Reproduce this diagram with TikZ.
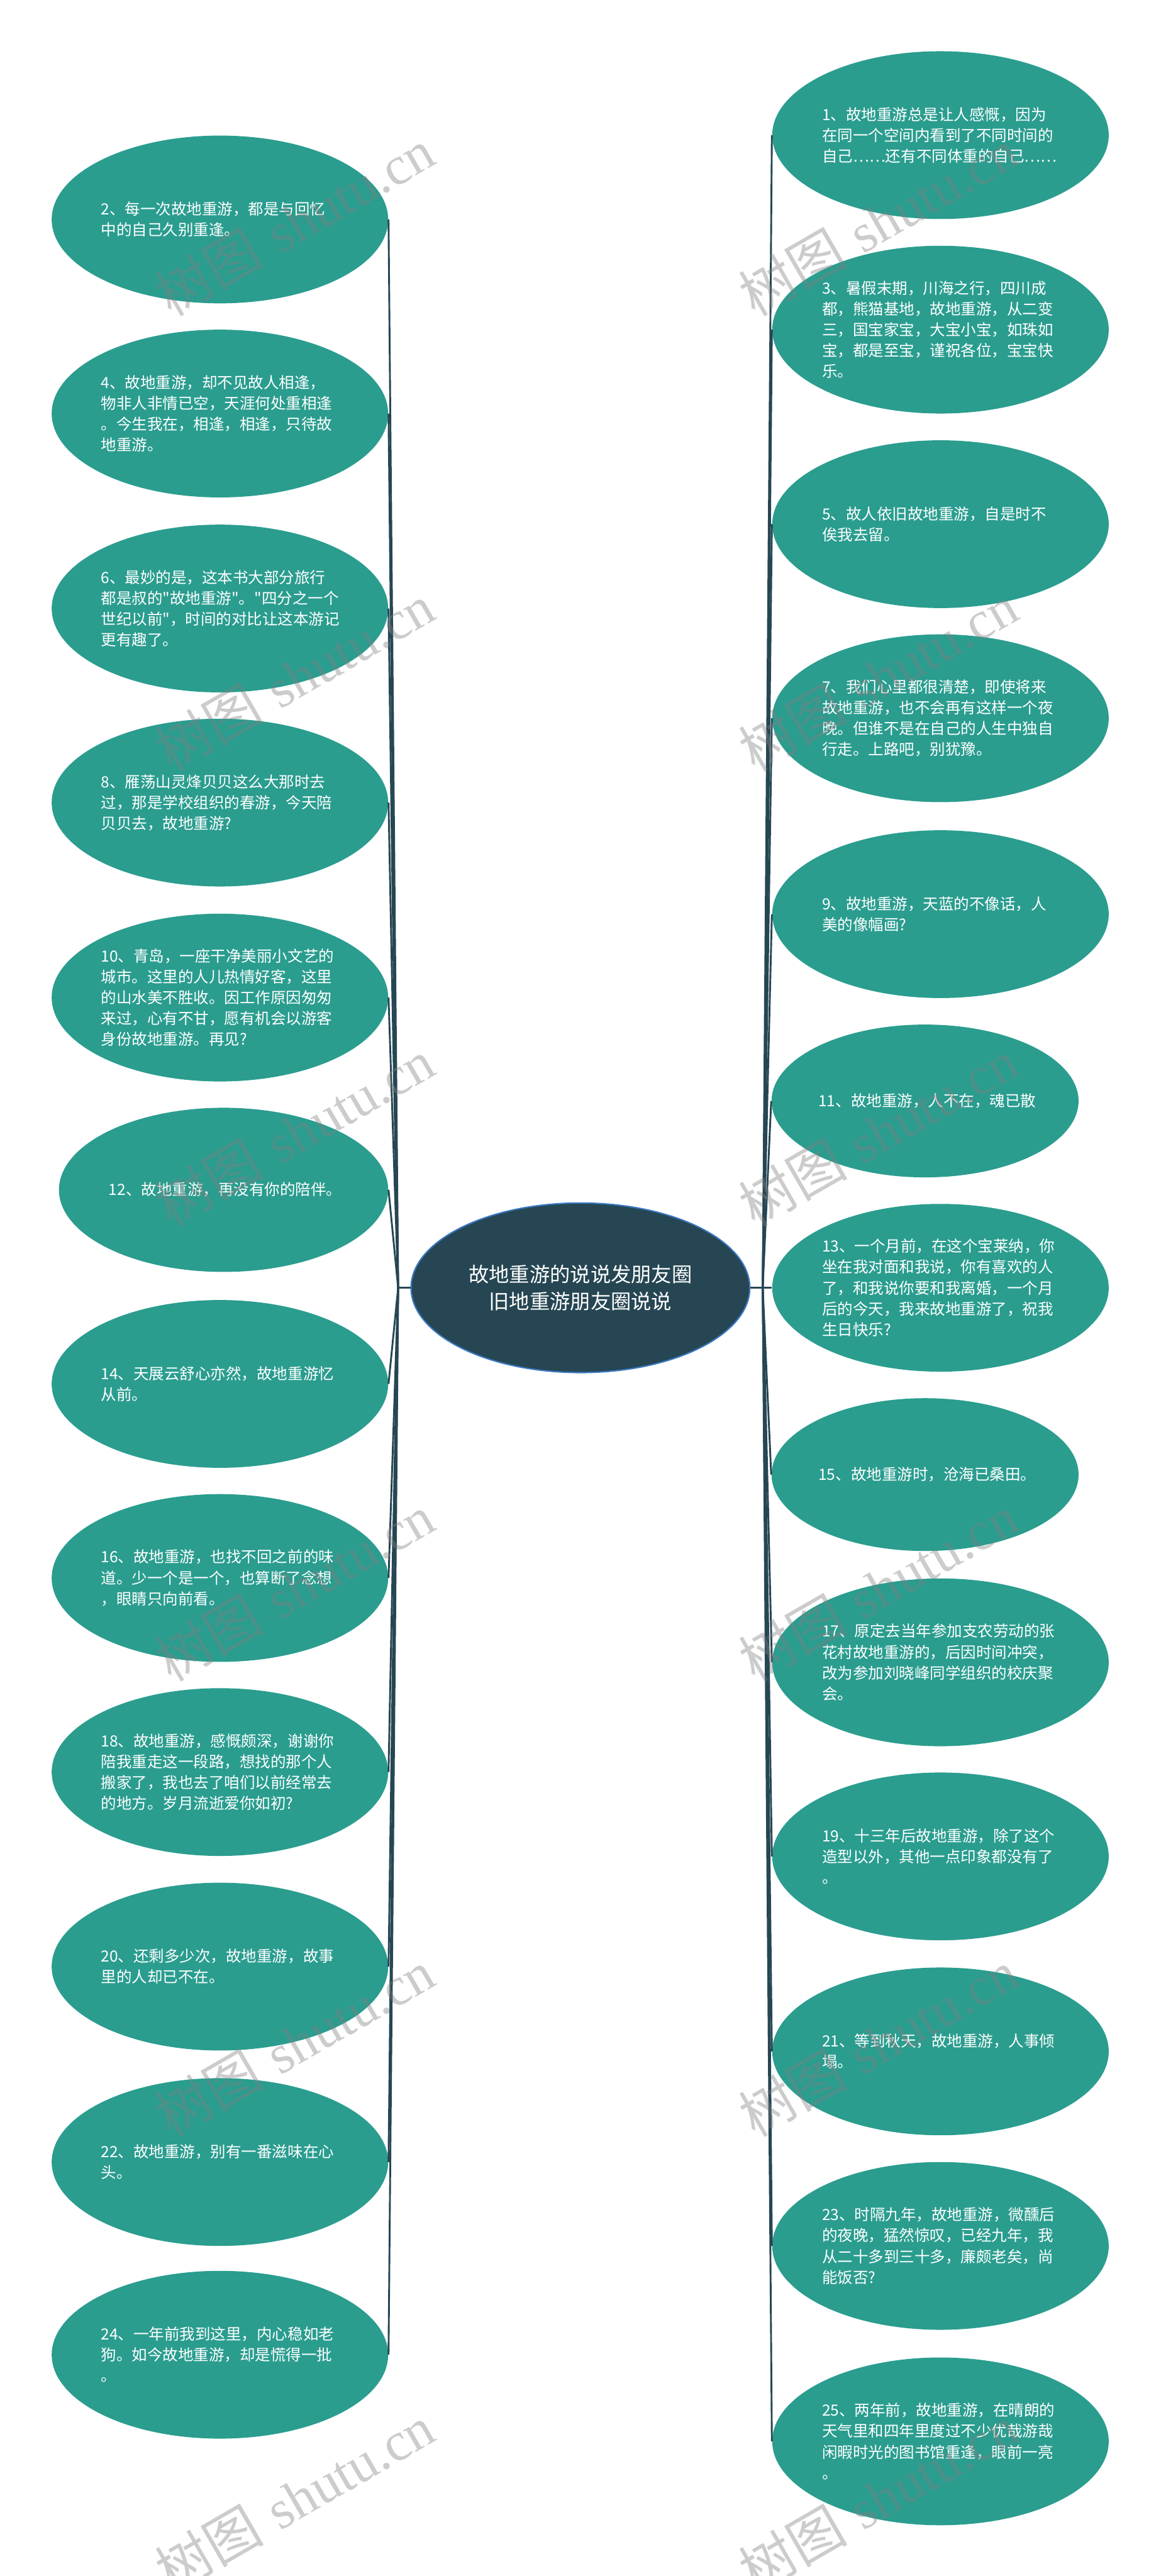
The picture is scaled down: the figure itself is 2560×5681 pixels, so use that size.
\documentclass[tikz,border=0pt]{standalone}
\usepackage{fontspec}
\newfontfamily\cjk{Noto Sans CJK SC}
\newfontfamily\wmserif{Liberation Serif}
\usetikzlibrary{shapes.geometric}
\definecolor{leafc}{HTML}{2A9D8F}
\definecolor{rootc}{HTML}{264653}
\definecolor{rootborder}{HTML}{3A78C0}
\begin{document}
\begin{tikzpicture}[x=0.25pt,y=-0.25pt,
  leaf/.style={ellipse, fill=leafc, draw=none, minimum width=185.5pt, minimum height=92.5pt, inner sep=0pt},
  lt/.style={anchor=west, align=left, text=white, inner sep=0pt, font=\cjk\fontsize{8.5pt}{11.5pt}\selectfont},
  root/.style={ellipse, fill=rootc, draw=rootborder, line width=0.75pt, minimum width=186.75pt, minimum height=93.5pt, inner sep=0pt, text=white, align=center, font=\cjk\fontsize{11.2pt}{15pt}\selectfont},
  conn/.style={draw=rootc, line width=1pt},
  wm/.style={rotate=30, text=gray, text opacity=0.4, inner sep=0pt, font=\fontsize{30pt}{34pt}\selectfont}
]
\useasboundingbox (0,0) rectangle (2560,5681);
\fill[white] (0,0) rectangle (2560,5681);

% root
\node[root] (root) at (1280,2840) {故地重游的说说发朋友圈\\旧地重游朋友圈说说};
\coordinate (JL) at (878,2840);
\coordinate (JR) at (1682,2840);

% left leaves
\node[leaf] (L2) at (485,484) {};
\node[leaf] (L4) at (485,912) {};
\node[leaf] (L6) at (485,1342) {};
\node[leaf] (L8) at (485,1770) {};
\node[leaf] (L10) at (485,2200) {};
\node[leaf, minimum width=181.5pt, minimum height=90.5pt] (L12) at (493,2624) {};
\node[leaf] (L14) at (485,3052) {};
\node[leaf] (L16) at (485,3480) {};
\node[leaf] (L18) at (485,3908) {};
\node[leaf] (L20) at (485,4337) {};
\node[leaf] (L22) at (485,4768) {};
\node[leaf] (L24) at (485,5193) {};

% right leaves
\node[leaf] (R1) at (2074,298) {};
\node[leaf] (R3) at (2074,727) {};
\node[leaf] (R5) at (2074,1156) {};
\node[leaf] (R7) at (2074,1584) {};
\node[leaf] (R9) at (2074,2016) {};
\node[leaf, minimum width=169.25pt, minimum height=84.25pt] (R11) at (2040,2428) {};
\node[leaf] (R13) at (2074,2840) {};
\node[leaf, minimum width=169.25pt, minimum height=84.25pt] (R15) at (2040,3252) {};
\node[leaf] (R17) at (2074,3666) {};
\node[leaf] (R19) at (2074,4094) {};
\node[leaf] (R21) at (2074,4524) {};
\node[leaf] (R23) at (2074,4953) {};
\node[leaf] (R25) at (2074,5384) {};

% connectors
\draw[conn] (root.west) -- (JL);
\draw[conn] (root.east) -- (JR);
\foreach \n in {L2,L4,L6,L8,L10,L12,L14,L16,L18,L20,L22,L24}{\draw[conn] (JL) -- (\n.east);}
\foreach \n in {R1,R3,R5,R7,R9,R11,R15,R17,R19,R21,R23,R25}{\draw[conn] (JR) -- (\n.west);}
\draw[conn] (JR) -- (R13.west);

% left texts
\node[lt] (T2) at (222,484) {2、每一次故地重游，都是与回忆\\中的自己久别重逢。};
\node[lt] (T4) at (222,912) {4、故地重游，却不见故人相逢，\\物非人非情已空，天涯何处重相逢\\。今生我在，相逢，相逢，只待故\\地重游。};
\node[lt] (T6) at (222,1342) {6、最妙的是，这本书大部分旅行\\都是叔的"故地重游"。"四分之一个\\世纪以前"，时间的对比让这本游记\\更有趣了。};
\node[lt] (T8) at (222,1770) {8、雁荡山灵烽贝贝这么大那时去\\过，那是学校组织的春游，今天陪\\贝贝去，故地重游?};
\node[lt] (T10) at (222,2200) {10、青岛，一座干净美丽小文艺的\\城市。这里的人儿热情好客，这里\\的山水美不胜收。因工作原因匆匆\\来过，心有不甘，愿有机会以游客\\身份故地重游。再见?};
\node[lt] (T12) at (239,2624) {12、故地重游，再没有你的陪伴。};
\node[lt] (T14) at (222,3052) {14、天展云舒心亦然，故地重游忆\\从前。};
\node[lt] (T16) at (222,3480) {16、故地重游，也找不回之前的味\\道。少一个是一个，也算断了念想\\，眼睛只向前看。};
\node[lt] (T18) at (222,3908) {18、故地重游，感慨颇深，谢谢你\\陪我重走这一段路，想找的那个人\\搬家了，我也去了咱们以前经常去\\的地方。岁月流逝爱你如初?};
\node[lt] (T20) at (222,4337) {20、还剩多少次，故地重游，故事\\里的人却已不在。};
\node[lt] (T22) at (222,4768) {22、故地重游，别有一番滋味在心\\头。};
\node[lt] (T24) at (222,5193) {24、一年前我到这里，内心稳如老\\狗。如今故地重游，却是慌得一批\\。};

% right texts
\node[lt] (T1) at (1812,298) {1、故地重游总是让人感慨，因为\\在同一个空间内看到了不同时间的\\自己……还有不同体重的自己……};
\node[lt] (T3) at (1812,727) {3、暑假末期，川海之行，四川成\\都，熊猫基地，故地重游，从二变\\三，国宝家宝，大宝小宝，如珠如\\宝，都是至宝，谨祝各位，宝宝快\\乐。};
\node[lt] (T5) at (1812,1156) {5、故人依旧故地重游，自是时不\\俟我去留。};
\node[lt] (T7) at (1812,1584) {7、我们心里都很清楚，即使将来\\故地重游，也不会再有这样一个夜\\晚。但谁不是在自己的人生中独自\\行走。上路吧，别犹豫。};
\node[lt] (T9) at (1812,2016) {9、故地重游，天蓝的不像话，人\\美的像幅画?};
\node[lt] (T11) at (1804,2428) {11、故地重游，人不在，魂已散};
\node[lt] (T13) at (1812,2840) {13、一个月前，在这个宝莱纳，你\\坐在我对面和我说，你有喜欢的人\\了，和我说你要和我离婚，一个月\\后的今天，我来故地重游了，祝我\\生日快乐?};
\node[lt] (T15) at (1804,3252) {15、故地重游时，沧海已桑田。};
\node[lt] (T17) at (1812,3666) {17、原定去当年参加支农劳动的张\\花村故地重游的，后因时间冲突，\\改为参加刘晓峰同学组织的校庆聚\\会。};
\node[lt] (T19) at (1812,4094) {19、十三年后故地重游，除了这个\\造型以外，其他一点印象都没有了\\。};
\node[lt] (T21) at (1812,4524) {21、等到秋天，故地重游，人事倾\\塌。};
\node[lt] (T23) at (1812,4953) {23、时隔九年，故地重游，微醺后\\的夜晚，猛然惊叹，已经九年，我\\从二十多到三十多，廉颇老矣，尚\\能饭否?};
\node[lt] (T25) at (1812,5384) {25、两年前，故地重游，在晴朗的\\天气里和四年里度过不少优哉游哉\\闲暇时光的图书馆重逢，眼前一亮\\。};

% watermarks
\foreach \y [count=\i] in {490,1494,2498,3502,4506,5510}{
  \node[wm] (WL\i) at (650,\y) {{\cjk 树图} {\wmserif shutu.cn}};
  \node[wm] (WR\i) at (1936,\y) {{\cjk 树图} {\wmserif shutu.cn}};
}
\end{tikzpicture}
\end{document}
